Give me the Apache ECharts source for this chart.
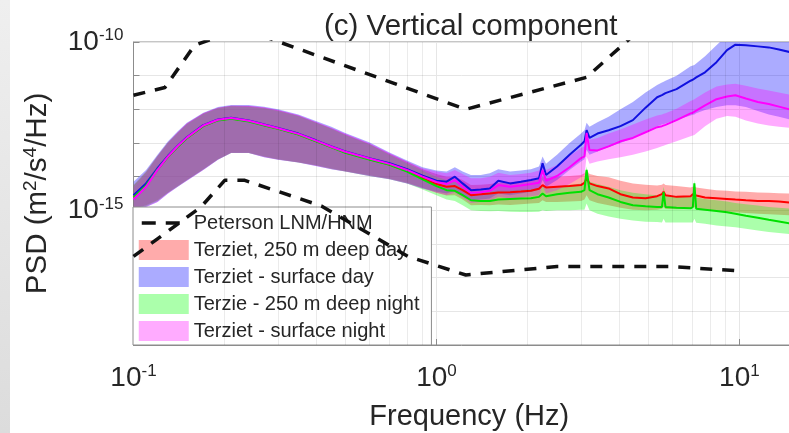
<!DOCTYPE html>
<html>
<head>
<meta charset="utf-8">
<script src="https://cdn.jsdelivr.net/npm/echarts@6/dist/echarts.min.js"></script>
<style>
  html, body { margin: 0; padding: 0; background: #fff; }
  #chart { width: 789px; height: 433px; }
</style>
</head>
<body>
<div id="chart"></div>
<script>
// frequency grid (Hz)
var freq = [
  0.10, 0.11, 0.12, 0.13, 0.14, 0.15, 0.17, 0.19, 0.21, 0.24,
  0.27, 0.30, 0.35, 0.40, 0.45, 0.50, 0.60, 0.70, 0.80, 0.90,
  1.00, 1.08, 1.15, 1.22, 1.30, 1.40, 1.50, 1.60, 1.75, 1.90,
  2.05, 2.18, 2.24, 2.30, 2.50, 2.75, 3.00, 3.08, 3.13, 3.20,
  3.40, 3.70, 4.05, 4.45, 4.90, 5.35, 5.55, 5.62, 5.70, 6.20,
  6.90, 7.02, 7.10, 7.20, 7.70, 8.40, 9.10, 9.70, 10.5, 11.5,
  12.5, 13.5, 15.0
];

// log10 of PSD (m^2/s^4/Hz): median line, lower and upper band edge
var redMid = [
  -14.60, -14.25, -13.78, -13.40, -13.10, -12.85, -12.49, -12.32, -12.27, -12.35,
  -12.47, -12.57, -12.74, -12.94, -13.12, -13.28, -13.48, -13.64, -13.83, -14.05,
  -14.22, -14.30, -14.28, -14.40, -14.55, -14.52, -14.50, -14.47, -14.46, -14.44,
  -14.42, -14.36, -14.25, -14.32, -14.30, -14.28, -14.25, -14.18, -14.05, -14.20,
  -14.28, -14.35, -14.52, -14.62, -14.64, -14.58, -14.52, -14.45, -14.55, -14.60,
  -14.58, -14.52, -14.48, -14.56, -14.62, -14.64, -14.66, -14.68, -14.70, -14.72,
  -14.72, -14.74, -14.78
];
var redLo = [
  -14.95, -14.85, -14.70, -14.47, -14.28, -14.10, -13.78, -13.48, -13.29, -13.29,
  -13.40, -13.48, -13.57, -13.66, -13.76, -13.84, -13.96, -14.06, -14.18, -14.33,
  -14.48, -14.56, -14.55, -14.68, -14.85, -14.84, -14.85, -14.83, -14.84, -14.82,
  -14.80, -14.78, -14.70, -14.75, -14.75, -14.74, -14.72, -14.68, -14.55, -14.70,
  -14.78, -14.85, -14.92, -14.98, -15.00, -14.98, -14.95, -14.90, -14.96, -14.97,
  -14.96, -14.92, -14.90, -14.95, -14.98, -15.02, -15.04, -15.06, -15.08, -15.10,
  -15.12, -15.13, -15.15
];
var redHi = [
  -14.25, -13.85, -13.38, -12.98, -12.68, -12.42, -12.12, -11.95, -11.89, -11.90,
  -11.95, -12.03, -12.18, -12.38, -12.56, -12.74, -13.02, -13.32, -13.56, -13.78,
  -13.92, -14.00, -14.00, -14.10, -14.25, -14.24, -14.22, -14.18, -14.16, -14.14,
  -14.12, -14.08, -14.00, -14.04, -14.00, -13.98, -13.95, -13.90, -13.80, -13.92,
  -13.98, -14.02, -14.12, -14.20, -14.24, -14.26, -14.24, -14.20, -14.25, -14.28,
  -14.32, -14.30, -14.28, -14.32, -14.36, -14.40, -14.42, -14.44, -14.45, -14.47,
  -14.48, -14.49, -14.50
];

var blueMid = [
  -14.55, -14.20, -13.75, -13.38, -13.08, -12.83, -12.47, -12.30, -12.25, -12.33,
  -12.45, -12.55, -12.72, -12.92, -13.10, -13.25, -13.45, -13.60, -13.78, -13.97,
  -14.12, -14.15, -14.00, -14.20, -14.40, -14.38, -14.35, -14.12, -14.20, -14.15,
  -14.10, -14.05, -13.60, -13.95, -13.70, -13.35, -13.05, -12.95, -12.62, -12.85,
  -12.72, -12.62, -12.50, -12.32, -11.95, -11.64, -11.58, -11.55, -11.52, -11.40,
  -11.15, -11.12, -11.10, -11.05, -10.90, -10.60, -10.24, -10.08, -10.10, -10.13,
  -10.16, -10.22, -10.32
];
var blueLo = [
  -15.00, -14.90, -14.75, -14.50, -14.30, -14.12, -13.80, -13.50, -13.30, -13.30,
  -13.42, -13.50, -13.58, -13.68, -13.78, -13.85, -13.98, -14.08, -14.20, -14.35,
  -14.45, -14.50, -14.42, -14.55, -14.70, -14.68, -14.65, -14.50, -14.55, -14.50,
  -14.45, -14.38, -14.10, -14.30, -14.10, -13.80, -13.55, -13.48, -13.20, -13.35,
  -13.25, -13.12, -13.00, -12.85, -12.65, -12.50, -12.45, -12.44, -12.42, -12.32,
  -12.18, -12.16, -12.15, -12.12, -12.02, -11.93, -11.88, -11.88, -11.93, -12.05,
  -12.15, -12.22, -12.32
];
var blueHi = [
  -14.15, -13.80, -13.35, -12.95, -12.65, -12.40, -12.10, -11.93, -11.87, -11.87,
  -11.92, -12.00, -12.15, -12.35, -12.52, -12.70, -12.98, -13.28, -13.52, -13.72,
  -13.82, -13.85, -13.72, -13.85, -13.95, -13.95, -13.90, -13.78, -13.85, -13.82,
  -13.78, -13.70, -13.40, -13.62, -13.35, -13.00, -12.72, -12.62, -12.40, -12.52,
  -12.38, -12.22, -12.00, -11.78, -11.50, -11.28, -11.20, -11.18, -11.15, -11.00,
  -10.72, -10.70, -10.68, -10.64, -10.42, -10.10, -9.80, -9.65, -9.60, -9.62,
  -9.65, -9.70, -9.80
];

var greenMid = [
  -14.62, -14.26, -13.79, -13.41, -13.11, -12.86, -12.50, -12.33, -12.28, -12.36,
  -12.48, -12.58, -12.75, -12.95, -13.13, -13.29, -13.49, -13.65, -13.85, -14.08,
  -14.28, -14.40, -14.42, -14.55, -14.70, -14.72, -14.72, -14.68, -14.66, -14.65,
  -14.64, -14.60, -14.50, -14.58, -14.52, -14.48, -14.45, -14.40, -13.80, -14.40,
  -14.52, -14.62, -14.75, -14.85, -14.88, -14.90, -14.90, -14.46, -14.90, -14.92,
  -14.94, -14.90, -14.20, -14.95, -14.98, -15.02, -15.06, -15.10, -15.16, -15.22,
  -15.28, -15.33, -15.40
];
var greenLo = [
  -14.97, -14.88, -14.72, -14.48, -14.29, -14.11, -13.79, -13.49, -13.30, -13.30,
  -13.41, -13.49, -13.58, -13.67, -13.77, -13.85, -13.98, -14.08, -14.20, -14.38,
  -14.55, -14.68, -14.72, -14.85, -15.00, -15.02, -15.03, -15.02, -15.04, -15.05,
  -15.05, -15.04, -15.00, -15.02, -15.00, -15.00, -14.98, -14.98, -14.80, -15.00,
  -15.10, -15.18, -15.25, -15.30, -15.34, -15.35, -15.36, -15.25, -15.36, -15.36,
  -15.36, -15.36, -15.25, -15.37, -15.40, -15.45, -15.48, -15.50, -15.55, -15.60,
  -15.64, -15.67, -15.72
];
var greenHi = [
  -14.28, -13.88, -13.40, -13.00, -12.70, -12.44, -12.14, -11.97, -11.91, -11.92,
  -11.97, -12.05, -12.20, -12.40, -12.58, -12.76, -13.04, -13.35, -13.60, -13.82,
  -14.00, -14.10, -14.15, -14.25, -14.42, -14.44, -14.44, -14.40, -14.40, -14.38,
  -14.36, -14.33, -14.25, -14.30, -14.28, -14.25, -14.20, -14.15, -13.70, -14.15,
  -14.22, -14.30, -14.40, -14.48, -14.52, -14.55, -14.55, -14.30, -14.56, -14.58,
  -14.60, -14.58, -14.10, -14.62, -14.66, -14.70, -14.74, -14.78, -14.82, -14.86,
  -14.90, -14.92, -14.96
];

var magentaMid = [
  -14.68, -14.30, -13.80, -13.40, -13.09, -12.84, -12.48, -12.31, -12.26, -12.34,
  -12.46, -12.56, -12.73, -12.93, -13.11, -13.26, -13.46, -13.62, -13.80, -14.00,
  -14.16, -14.22, -14.10, -14.30, -14.48, -14.46, -14.42, -14.25, -14.30, -14.26,
  -14.22, -14.18, -13.80, -14.12, -13.98, -13.72, -13.45, -13.40, -12.70, -13.21,
  -13.22, -13.10, -12.95, -12.85, -12.68, -12.53, -12.50, -12.48, -12.46, -12.32,
  -12.12, -12.10, -12.08, -12.04, -11.88, -11.70, -11.62, -11.58, -11.68, -11.78,
  -11.84, -11.92, -12.03
];
var magentaLo = [
  -15.00, -14.90, -14.75, -14.50, -14.30, -14.12, -13.80, -13.50, -13.30, -13.30,
  -13.42, -13.50, -13.58, -13.68, -13.78, -13.85, -13.98, -14.08, -14.20, -14.35,
  -14.48, -14.55, -14.48, -14.62, -14.78, -14.75, -14.72, -14.60, -14.65, -14.62,
  -14.58, -14.55, -14.30, -14.50, -14.40, -14.22, -14.02, -13.95, -13.40, -13.62,
  -13.55, -13.48, -13.42, -13.35, -13.25, -13.15, -13.10, -13.08, -13.06, -12.95,
  -12.80, -12.78, -12.76, -12.72, -12.50, -12.28, -12.20, -12.22, -12.33, -12.42,
  -12.48, -12.52, -12.56
];
var magentaHi = [
  -14.30, -13.90, -13.40, -13.00, -12.68, -12.42, -12.12, -11.95, -11.89, -11.89,
  -11.94, -12.02, -12.17, -12.37, -12.55, -12.72, -13.00, -13.30, -13.55, -13.75,
  -13.85, -13.90, -13.80, -13.92, -14.05, -14.05, -14.00, -13.88, -13.95, -13.92,
  -13.88, -13.82, -13.55, -13.80, -13.65, -13.38, -13.15, -13.10, -12.55, -12.90,
  -12.85, -12.72, -12.60, -12.45, -12.30, -12.18, -12.15, -12.13, -12.12, -11.98,
  -11.75, -11.72, -11.70, -11.66, -11.50, -11.32, -11.26, -11.24, -11.30, -11.38,
  -11.44, -11.50, -11.58
];

// Peterson new low / high noise models (log10 PSD)
var lnmFreq = [0.10, 0.167, 0.20, 0.233, 0.417, 0.806, 1.25, 2.50, 5.88, 10.0];
var lnmPsd = [-16.37, -14.90, -14.11, -14.11, -14.87, -16.37, -16.92, -16.67, -16.67, -16.80];
var hnmFreq = [0.10, 0.127, 0.159, 0.217, 0.263, 1.25, 3.125, 4.55, 10.0];
var hnmPsd = [-11.58, -11.35, -10.10, -9.65, -9.80, -12.00, -11.05, -9.74, -9.15];

var minorGrid = [0.2, 0.3, 0.4, 0.5, 0.6, 0.7, 0.8, 0.9, 2, 3, 4, 5, 6, 7, 8, 9];
var yLabelExp = [-10, -15];

var groups = [
  { name: 'Terziet, 250 m deep day', mid: redMid, lo: redLo, hi: redHi, fill: 'rgba(255,0,0,0.33)', line: '#ff0000' },
  { name: 'Terziet - surface day', mid: blueMid, lo: blueLo, hi: blueHi, fill: 'rgba(0,0,255,0.33)', line: '#1010e0' },
  { name: 'Terzie - 250 m deep night', mid: greenMid, lo: greenLo, hi: greenHi, fill: 'rgba(0,255,0,0.33)', line: '#00e000' },
  { name: 'Terziet - surface night', mid: magentaMid, lo: magentaLo, hi: magentaHi, fill: 'rgba(255,0,255,0.33)', line: '#ff00ff' }
];

function pts(f, e) {
  return f.map(function (v, i) { return [v, Math.pow(10, e[i])]; });
}

// band between lower and upper edge, drawn as one polygon through the axes
function band(g) {
  return {
    type: 'custom', name: g.name, silent: true, clip: true,
    itemStyle: { color: g.fill },
    data: freq.map(function (v, i) { return [v, Math.pow(10, g.lo[i]), Math.pow(10, g.hi[i])]; }),
    encode: { x: 0, y: [1, 2] },
    renderItem: function (params, api) {
      if (params.dataIndex !== 0) return null;
      var up = [], dn = [];
      for (var i = 0; i < freq.length; i++) {
        up.push(api.coord([freq[i], Math.pow(10, g.hi[i])]));
        dn.unshift(api.coord([freq[i], Math.pow(10, g.lo[i])]));
      }
      var cs = params.coordSys;
      return {
        type: 'polygon',
        shape: { points: up.concat(dn) },
        style: { fill: g.fill, stroke: null },
        clipPath: { type: 'rect', shape: { x: cs.x, y: cs.y, width: cs.width, height: cs.height } }
      };
    }
  };
}

var font = '"Liberation Sans", Arial, sans-serif';
var txt = '#262626';
var axisCol = '#8c8c8c';
var supRich = {
  b: { fontSize: 28, lineHeight: 30, color: txt, fontFamily: font },
  e: { fontSize: 17, lineHeight: 17, verticalAlign: 'top', color: txt, fontFamily: font }
};

var series = [{
  type: 'line', name: '_grid', silent: true, symbol: 'none',
  data: [], lineStyle: { opacity: 0 },
  markLine: {
    silent: true, symbol: ['none', 'none'], animation: false,
    label: { show: false },
    lineStyle: { color: 'rgba(0,0,0,0.08)', width: 1, type: 'solid' },
    data: minorGrid.map(function (v) { return { xAxis: v }; })
  }
}];

groups.forEach(function (g) { series.push(band(g)); });
groups.forEach(function (g, k) {
  series.push({
    type: 'line', name: '_mid' + k, symbol: 'none', silent: true, z: 3,
    lineStyle: { color: g.line, width: 2 }, data: pts(freq, g.mid)
  });
});
[[lnmFreq, lnmPsd], [hnmFreq, hnmPsd]].forEach(function (p) {
  series.push({
    type: 'line', name: 'Peterson LNM/HNM', symbol: 'none', silent: true, z: 4,
    color: '#111',
    lineStyle: { color: '#111', width: 3.5, type: [12, 10] },
    data: pts(p[0], p[1])
  });
});

var chart = echarts.init(document.getElementById('chart'));
chart.setOption({
  animation: false,
  textStyle: { fontFamily: font },
  title: {
    text: '(c) Vertical component', left: 319, top: 7,
    textStyle: { fontSize: 29.5, fontWeight: 'normal', color: txt, fontFamily: font }
  },
  graphic: [{
    type: 'rect', left: 0, top: 0, z: -10,
    shape: { width: 10, height: 433 },
    style: {
      fill: new echarts.graphic.LinearGradient(0, 0, 0, 1, [
        { offset: 0, color: '#efefef' }, { offset: 1, color: '#dcdcdc' }
      ])
    }
  }],
  grid: {
    left: 133.5, top: 42, right: -2, bottom: 88,
    containLabel: false, outerBoundsMode: 'none',
    show: true, borderColor: axisCol, borderWidth: 1
  },
  legend: {
    orient: 'vertical', left: 133, top: 207,
    backgroundColor: '#fff', borderColor: axisCol, borderWidth: 1,
    padding: [6, 12, 4, 4], itemGap: 7, itemWidth: 50, itemHeight: 20,
    selectedMode: false,
    textStyle: { fontSize: 20, color: txt, fontFamily: font },
    data: [{
      name: 'Peterson LNM/HNM',
      itemStyle: { color: 'rgba(0,0,0,0)', borderWidth: 0 },
      lineStyle: { color: '#111', width: 3.5, type: [14, 10], dashOffset: -3 }
    }].concat(groups.map(function (g) {
      return { name: g.name, icon: 'rect', itemStyle: { color: g.fill } };
    }))
  },
  xAxis: {
    type: 'log', logBase: 10, min: 0.1, max: 14.8,
    axisLine: { show: true, lineStyle: { color: axisCol } },
    axisTick: { show: true, inside: true, length: 6, lineStyle: { color: axisCol } },
    splitLine: { show: true, lineStyle: { color: '#e6e6e6' } },
    axisLabel: {
      margin: 18,
      formatter: function (v) {
        var e = Math.log10(v);
        if (Math.abs(e - Math.round(e)) > 1e-6) return '';
        return '{b|10}{e|' + Math.round(e) + '}';
      },
      rich: supRich
    },
    name: 'Frequency (Hz)', nameLocation: 'middle', nameGap: 57,
    nameTextStyle: { fontSize: 29, color: txt, fontFamily: font, padding: [0, 0, 0, 14] }
  },
  yAxis: {
    type: 'log', logBase: 10, min: 1e-19, max: 1e-10,
    axisLine: { show: true, lineStyle: { color: axisCol } },
    axisTick: { show: true, inside: true, length: 6, lineStyle: { color: axisCol } },
    splitLine: { show: true, lineStyle: { color: '#e6e6e6' } },
    axisLabel: {
      margin: 10,
      formatter: function (v) {
        var e = Math.round(Math.log10(v));
        return yLabelExp.indexOf(e) >= 0 ? '{b|10}{e|' + e + '}' : '';
      },
      rich: supRich
    },
    name: '{n|PSD (m}{s|2}{n|/s}{s|4}{n|/Hz)}',
    nameLocation: 'middle', nameGap: 80, nameRotate: 90,
    nameTextStyle: {
      rich: {
        n: { fontSize: 29.5, lineHeight: 32, color: txt, fontFamily: font },
        s: { fontSize: 19, lineHeight: 19, verticalAlign: 'top', color: txt, fontFamily: font }
      }
    }
  },
  series: series
});
</script>
</body>
</html>
